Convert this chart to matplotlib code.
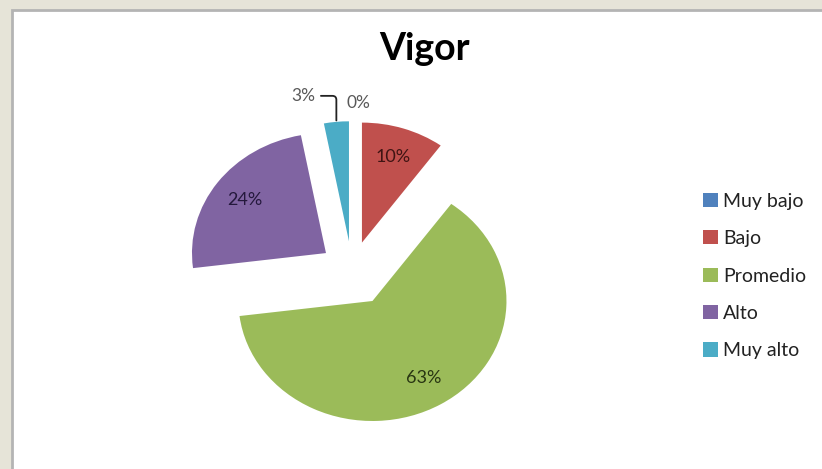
#!/usr/bin/env python
import matplotlib

matplotlib.use("Agg")
import matplotlib.pyplot as plt
from matplotlib.patches import Rectangle
import numpy as np


CATEGORIES = ["Muy bajo", "Bajo", "Promedio", "Alto", "Muy alto"]
PERCENTS = [0, 10, 63, 24, 3]
COLORS = ["#4F81BD", "#C0504D", "#9BBB59", "#8064A2", "#4BACC6"]
LABEL_COLORS = ["#222222", "#3f1413", "#283512", "#24183c", "#222222"]
TITLE = "Vigor"

W_PX, H_PX = 822, 469
FONT = ["Lato", "DejaVu Sans"]


def px(x, y):
    # pixel coords (top-left origin) -> figure fraction
    return x / W_PX, 1 - y / H_PX


def wedge_tip(wedge, r_scale=1.0):
    ang = np.deg2rad((wedge.theta1 + wedge.theta2) / 2)
    cx, cy = wedge.center
    r = wedge.r * r_scale
    return cx + r * np.cos(ang), cy + r * np.sin(ang)


def main():
    plt.rcParams["font.family"] = FONT
    fig = plt.figure(figsize=(W_PX / 100, H_PX / 100), dpi=100)
    fig.patch.set_facecolor("#e6e4d8")

    # white chart panel with grey border
    x0, y0 = px(12, 10)
    fig.patches.append(
        Rectangle((x0, -0.05), 1.05, y0 + 0.05, transform=fig.transFigure,
                  facecolor="white", edgecolor="#b4b4b4", linewidth=2.0, zorder=-5)
    )

    # pie axes: 1 unit = 134 px horizontally, 120 px vertically
    cx, cy = 352, 270
    ax_w, ax_h = 3.0 * 134, 3.2 * 120
    ax = fig.add_axes([(cx - ax_w / 2) / W_PX, (H_PX - cy - ax_h / 2) / H_PX,
                       ax_w / W_PX, ax_h / H_PX])
    ax.set_zorder(2)
    ax.patch.set_visible(False)

    explode = [0.24, 0.24, 0.3, 0.24, 0.24]
    wedges, _, autotexts = ax.pie(
        PERCENTS,
        colors=COLORS,
        explode=explode,
        startangle=90,
        counterclock=False,
        autopct=lambda p: f"{p:.0f}%" if p >= 5 else "",
        pctdistance=0.75,
        wedgeprops={"linewidth": 0},
        textprops={"fontsize": 13},
    )
    ax.set_aspect("auto")
    ax.set_xlim(-1.5, 1.5)
    ax.set_ylim(-1.6, 1.6)
    ax.axis("off")
    for txt, col in zip(autotexts, LABEL_COLORS):
        txt.set_color(col)

    # small slices: labels outside
    tip0 = wedge_tip(wedges[0])
    ax.annotate(f"{PERCENTS[0]}%", xy=tip0, xytext=(6, 18), textcoords="offset pixels",
                ha="center", va="center", fontsize=12.5, color="#595959")
    tip4 = wedge_tip(wedges[4])
    ax.annotate(
        f"{PERCENTS[4]}%", xy=tip4, xytext=(-33, 26), textcoords="offset pixels",
        ha="center", va="center", fontsize=12.5, color="#595959",
        arrowprops={"arrowstyle": "-", "color": "#222222", "linewidth": 1.3,
                    "connectionstyle": "angle,angleA=0,angleB=90,rad=4",
                    "shrinkA": 2, "shrinkB": 1},
    )

    fig.text(*px(425, 60), TITLE, ha="center", va="baseline",
             fontsize=27, fontweight="bold", color="black")

    fig.legend(
        wedges, CATEGORIES,
        loc="center left",
        bbox_to_anchor=px(703, 276),
        frameon=False,
        fontsize=14,
        handlelength=0.75,
        handleheight=0.75,
        handletextpad=0.3,
        labelspacing=1.05,
        borderpad=0,
        borderaxespad=0,
        labelcolor="#222222",
    )

    fig.savefig("out.png", dpi=100, facecolor=fig.get_facecolor())
    plt.close(fig)


if __name__ == "__main__":
    main()
